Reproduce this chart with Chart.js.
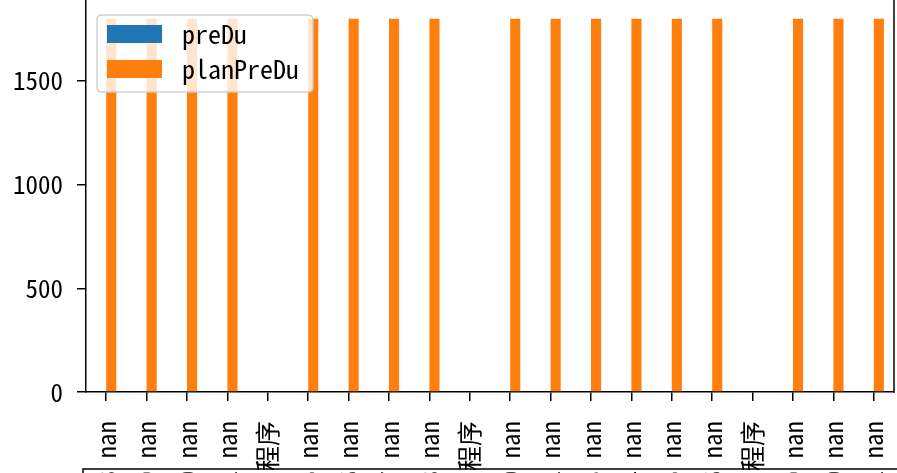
<!DOCTYPE html>
<html>
<head>
<meta charset="utf-8">
<script src="https://cdn.jsdelivr.net/npm/chart.js@4.4.1/dist/chart.umd.min.js"></script>
<style>
  html, body { margin: 0; padding: 0; background: #ffffff; }
  #wrap { width: 897px; height: 473px; position: relative; overflow: hidden; }
</style>
</head>
<body>
<div id="wrap"><canvas id="c" width="897" height="473"></canvas></div>
<script>
// ---- data ----
const categories = [
  "2021-03-08 nan", "2021-03-09 nan", "2021-03-10 nan", "2021-03-11 nan", "应用程序",
  "2021-03-15 nan", "2021-03-16 nan", "2021-03-17 nan", "2021-03-18 nan", "应用程序",
  "2021-03-20 nan", "2021-03-21 nan", "2021-03-23 nan", "2021-03-24 nan", "2021-03-25 nan",
  "2021-03-26 nan", "应用程序", "2021-03-29 nan", "2021-03-30 nan", "2021-03-31 nan"
];
const seriesNames = ["preDu", "planPreDu"];
const preDu = [null, null, null, null, null, null, null, null, null, null,
               null, null, null, null, null, null, null, null, null, null];
const planPreDu = [1800, 1800, 1800, 1800, null, 1800, 1800, 1800, 1800, null,
                   1800, 1800, 1800, 1800, 1800, 1800, null, 1800, 1800, 1800];
const yTicks = [0, 500, 1000, 1500];
const yMax = 1890;

// ---- styles ----
const BLUE = "#1f77b4";
const ORANGE = "#ff7f0e";
const FONT = '"Noto Sans Mono CJK SC", "Noto Sans CJK SC", "DejaVu Sans Mono", monospace';

const decorPlugin = {
  id: 'decor',
  afterDraw(chart) {
    const ctx = chart.ctx;
    const a = chart.chartArea;
    ctx.save();
    ctx.strokeStyle = '#000';
    ctx.lineWidth = 1.5;
    ctx.beginPath();
    ctx.moveTo(a.right, a.top);
    ctx.lineTo(a.right, a.bottom + 0.75);
    ctx.stroke();
    const yb = a.bottom + 77;
    ctx.beginPath();
    ctx.moveTo(a.left - 3, chart.height);
    ctx.lineTo(a.left - 3, yb);
    ctx.lineTo(chart.width, yb);
    ctx.stroke();

    // legend
    const lx = a.left + 11, ly = a.top + 15, lw = 216, lh = 77, r = 5;
    ctx.beginPath();
    ctx.moveTo(lx + r, ly);
    ctx.lineTo(lx + lw - r, ly);
    ctx.quadraticCurveTo(lx + lw, ly, lx + lw, ly + r);
    ctx.lineTo(lx + lw, ly + lh - r);
    ctx.quadraticCurveTo(lx + lw, ly + lh, lx + lw - r, ly + lh);
    ctx.lineTo(lx + r, ly + lh);
    ctx.quadraticCurveTo(lx, ly + lh, lx, ly + lh - r);
    ctx.lineTo(lx, ly + r);
    ctx.quadraticCurveTo(lx, ly, lx + r, ly);
    ctx.closePath();
    ctx.fillStyle = 'rgba(255,255,255,0.8)';
    ctx.fill();
    ctx.strokeStyle = 'rgba(204,204,204,0.9)';
    ctx.lineWidth = 1.5;
    ctx.stroke();

    ctx.font = '26px ' + FONT;
    ctx.textBaseline = 'middle';
    ctx.textAlign = 'left';
    chart.data.datasets.forEach((ds, i) => {
      const py = ly + 10 + i * 35;
      ctx.fillStyle = ds.backgroundColor;
      ctx.fillRect(lx + 10, py, 55, 18);
      ctx.fillStyle = '#000';
      ctx.fillText(ds.label, lx + 85, py + 9);
    });
    ctx.restore();
  }
};

function noPad(scale) {
  scale.paddingLeft = 0; scale.paddingRight = 0;
  scale.paddingTop = 0; scale.paddingBottom = 0;
}

function build() {
  new Chart(document.getElementById('c'), {
    type: 'bar',
    data: {
      labels: categories,
      datasets: [
        { label: seriesNames[0], data: preDu, backgroundColor: BLUE,
          categoryPercentage: 0.5, barPercentage: 1.0 },
        { label: seriesNames[1], data: planPreDu, backgroundColor: ORANGE,
          categoryPercentage: 0.5, barPercentage: 1.0 }
      ]
    },
    options: {
      responsive: false,
      animation: false,
      devicePixelRatio: 1,
      layout: { padding: { left: 0, right: 3, top: 0, bottom: 0 } },
      plugins: { legend: { display: false }, tooltip: { enabled: false } },
      scales: {
        x: {
          offset: true,
          grid: { offset: false, drawOnChartArea: false, drawTicks: true, tickLength: 9,
                  color: '#000', lineWidth: 1.5 },
          border: { display: true, color: '#000', width: 1.5 },
          ticks: { autoSkip: false, minRotation: 90, maxRotation: 90, padding: 20,
                   color: '#000', font: { family: FONT, size: 25 } },
          afterFit(scale) { scale.height = 81; noPad(scale); }
        },
        y: {
          min: 0, max: yMax,
          grid: { drawOnChartArea: false, drawTicks: true, tickLength: 9,
                  color: '#000', lineWidth: 1.5 },
          border: { display: true, color: '#000', width: 1.5 },
          ticks: { padding: 14, color: '#000', font: { family: FONT, size: 25 },
                   callback: (v) => String(v) },
          afterBuildTicks(scale) { scale.ticks = yTicks.map(v => ({ value: v })); },
          afterFit(scale) { scale.width = 86; noPad(scale); }
        }
      }
    },
    plugins: [decorPlugin]
  });
}

Promise.all([
  document.fonts.load('25px "Noto Sans Mono CJK SC"', 'nan应用程序'),
  document.fonts.load('25px "Noto Sans CJK SC"', '应用程序')
]).then(build, build);
</script>
</body>
</html>
